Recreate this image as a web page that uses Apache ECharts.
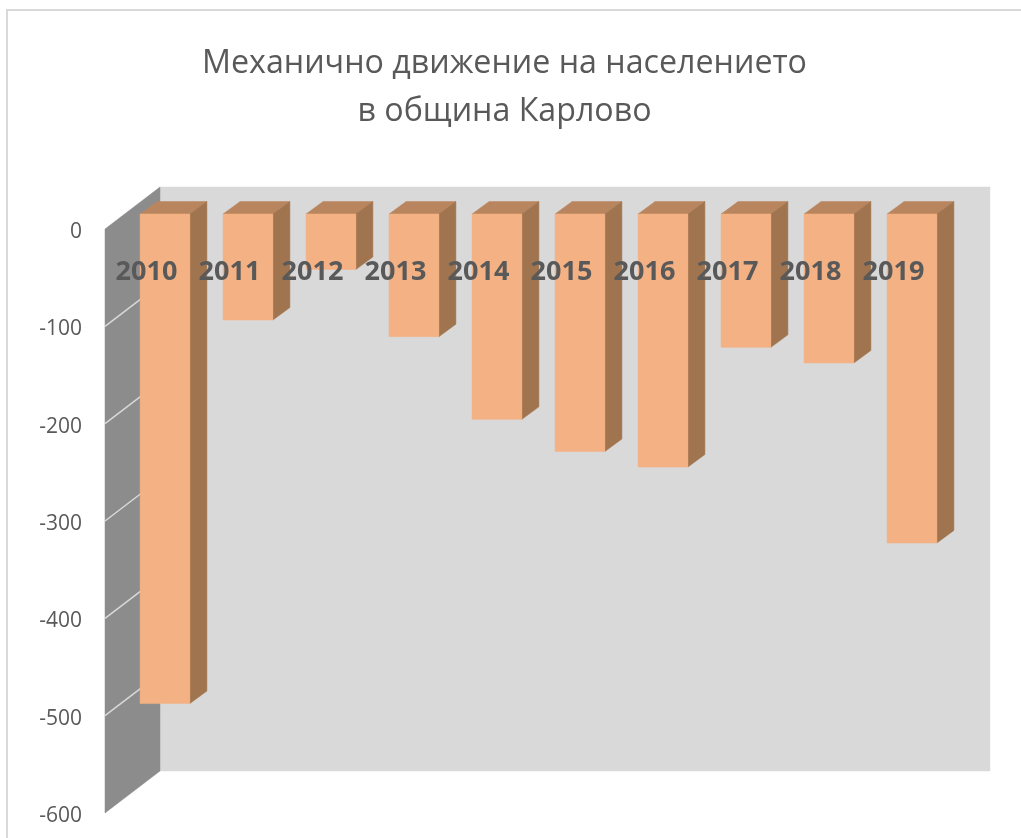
<!DOCTYPE html>
<html>
<head>
<meta charset="utf-8">
<style>html,body{margin:0;padding:0;background:#fff}#c{width:1021px;height:838px}</style>
<script src="https://cdn.jsdelivr.net/npm/echarts@6/dist/echarts.min.js"></script>
</head>
<body>
<div id="c"></div>
<script>
const titleText = 'Механично движение на населението\nв община Карлово';
const categories = ['2010','2011','2012','2013','2014','2015','2016','2017','2018','2019'];
const values = [-503,-109,-57,-126,-211,-244,-260,-137,-153,-338];
const yTicks = [0,-100,-200,-300,-400,-500,-600];

const wallDepth = [55,-42];
const barPlane = [18.5,-15];
const barDepth = [17,-12.5];
const font = '"Open Sans", sans-serif';

const chart = echarts.init(document.getElementById('c'), null, {renderer:'canvas'});

function poly(points, fill){
  return {type:'polygon', shape:{points}, style:{fill, stroke:fill, lineWidth:0.5}};
}

chart.setOption({
  animation:false,
  backgroundColor:'#ffffff',
  title:{
    text:titleText,
    left:499.5, top:35, textAlign:'center',
    textStyle:{fontFamily:font, fontSize:32.2, fontWeight:'normal', color:'#595959', lineHeight:48}
  },
  grid:{left:105, top:229, width:830, height:584, containLabel:false},
  xAxis:{
    type:'category', data:categories, position:'top', z:20,
    axisLine:{show:false}, axisTick:{show:false}, splitLine:{show:false},
    axisLabel:{inside:true, margin:30, interval:0, fontFamily:font, fontSize:27, fontWeight:'bold', color:'#595959'}
  },
  yAxis:{
    type:'value', min:-600, max:0, interval:100,
    axisLine:{show:false}, axisTick:{show:false}, splitLine:{show:false},
    axisLabel:{
      margin:23,
      formatter:v=>'{a|'+v+'}',
      rich:{a:{padding:[6,0,0,0], fontFamily:font, fontSize:21, color:'#595959'}}
    }
  },
  graphic:[
    {type:'polyline', z:1, shape:{points:[[7,838],[7,10],[1021,10]]}, style:{fill:'none', stroke:'#d9d9d9', lineWidth:2}}
  ],
  series:[
    {
      type:'custom', z:1, silent:true,
      data:yTicks,
      encode:{y:0},
      renderItem(params, api){
        const g = params.coordSys;
        const t = api.value(0);
        const y = api.coord([0,t])[1];
        const children = [];
        if(params.dataIndex === 0){
          const x0=g.x, y0=g.y, x1=g.x+g.width, y1=g.y+g.height, dx=wallDepth[0], dy=wallDepth[1];
          children.push(poly([[x0+dx,y0+dy],[x1+dx,y0+dy],[x1+dx,y1+dy],[x0+dx,y1+dy]],'#d9d9d9'));
          children.push(poly([[x0,y0],[x0+dx,y0+dy],[x0+dx,y1+dy],[x0,y1]],'#8c8c8c'));
        }
        if(t!==0 && t!==-600){
          children.push({type:'line', shape:{x1:g.x,y1:y,x2:g.x+wallDepth[0],y2:y+wallDepth[1]},
            style:{stroke:'#d9d9d9', lineWidth:1.5}});
        }
        return {type:'group', children};
      }
    },
    {
      type:'custom', z:5, silent:true,
      data:values.map((v,i)=>[i,v]),
      encode:{x:0,y:1},
      renderItem(params, api){
        const i=api.value(0), v=api.value(1);
        const c0=api.coord([i,0]), c1=api.coord([i,v]);
        const hw=api.size([1,0])[0]*0.3;
        const xl=c0[0]-hw+barPlane[0], xr=c0[0]+hw+barPlane[0];
        const yt=c0[1]+barPlane[1], yb=c1[1]+barPlane[1];
        const dx=barDepth[0], dy=barDepth[1];
        return {type:'group', children:[
          poly([[xl,yt],[xr,yt],[xr+dx,yt+dy],[xl+dx,yt+dy]],'#b9855f'),
          poly([[xr,yt],[xr+dx,yt+dy],[xr+dx,yb+dy],[xr,yb]],'#a0744f'),
          poly([[xl,yt],[xr,yt],[xr,yb],[xl,yb]],'#f4b183')
        ]};
      }
    }
  ]
});
</script>
</body>
</html>
